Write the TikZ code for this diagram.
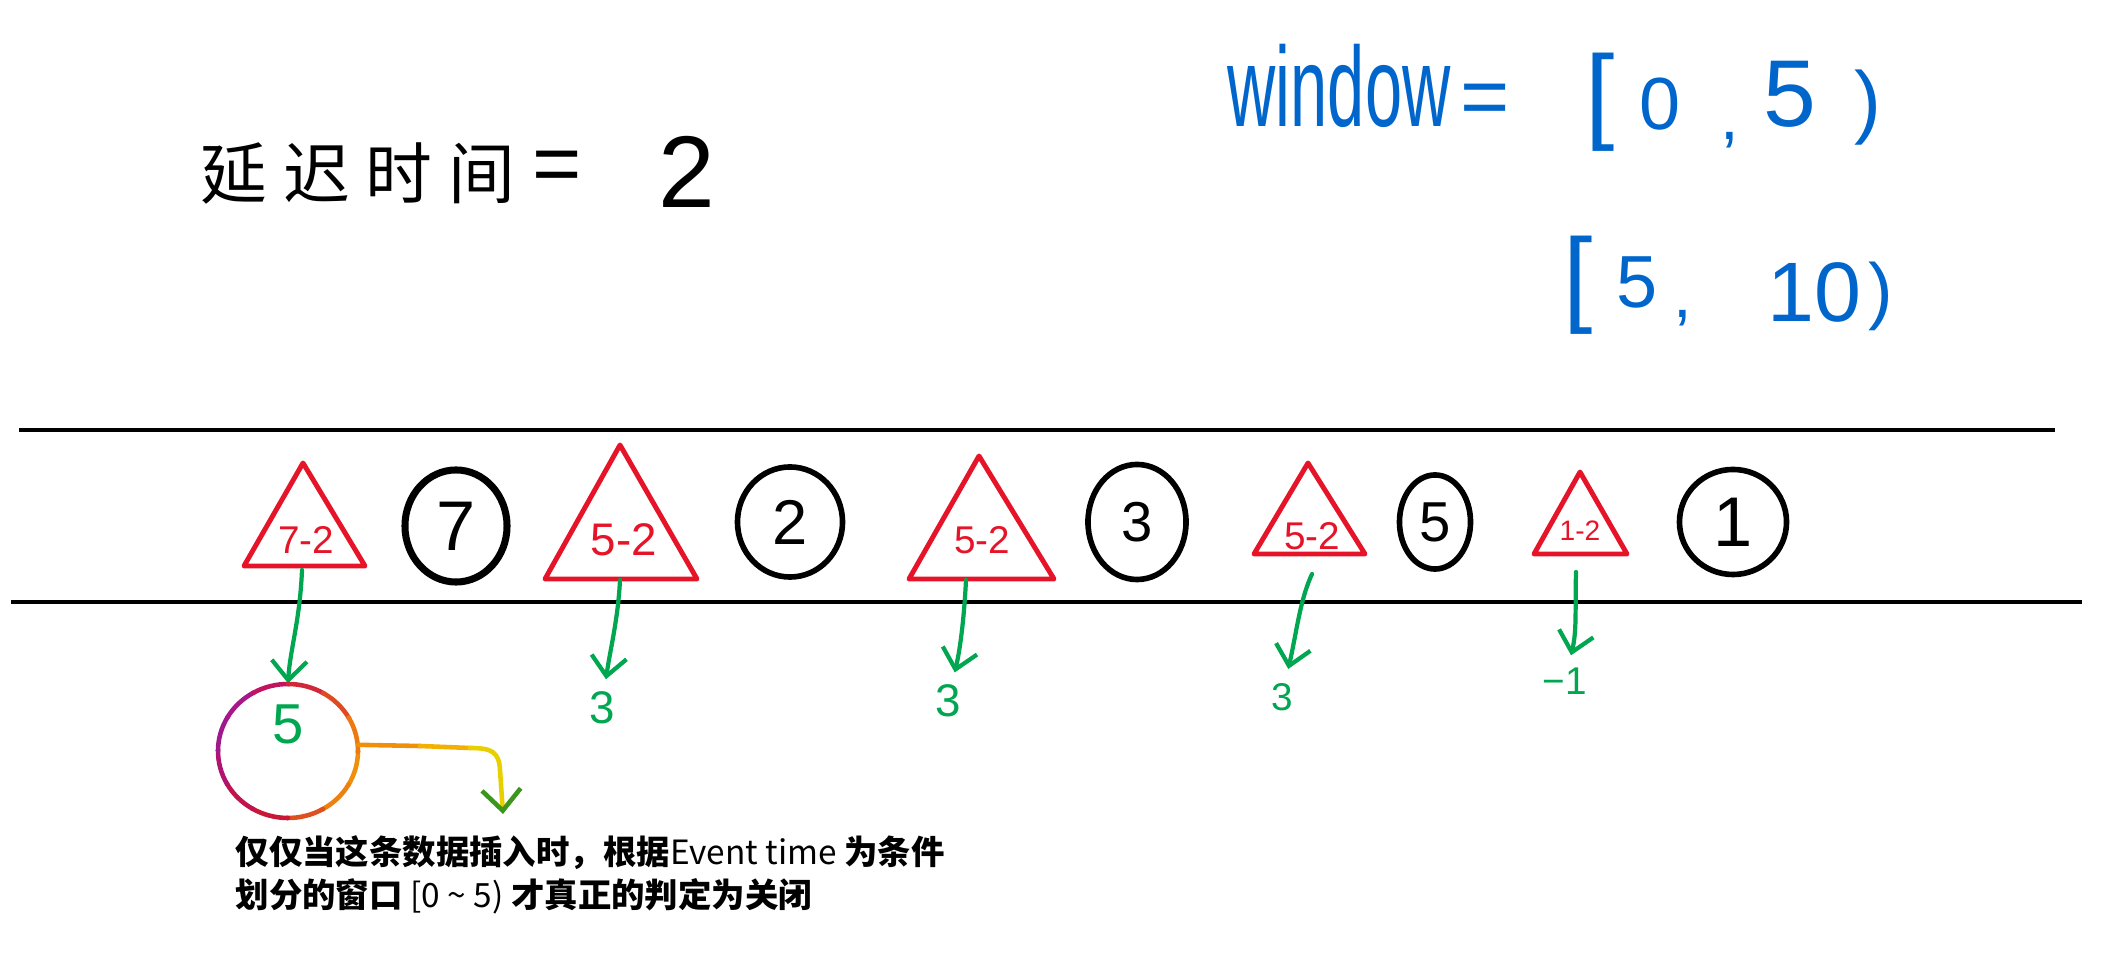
\documentclass[tikz,border=0pt]{standalone}
\usepackage{fontspec}
\usepackage{graphicx}
\setmainfont{Liberation Sans}
\newfontfamily\cjk{Noto Sans CJK SC}
\newfontfamily\hand{Liberation Sans}
\usetikzlibrary{arrows.meta,shapes.geometric,calc}
\definecolor{hred}{RGB}{230,20,40}
\definecolor{hgreen}{RGB}{0,166,80}
\definecolor{hblue}{RGB}{0,102,204}
\definecolor{rbA}{RGB}{240,144,10}
\definecolor{rbB}{RGB}{238,128,16}
\definecolor{rbC}{RGB}{221,80,32}
\definecolor{rbD}{RGB}{200,24,56}
\definecolor{rbE}{RGB}{192,20,74}
\definecolor{rbF}{RGB}{176,20,112}
\definecolor{rbG}{RGB}{160,24,142}
\definecolor{rbH}{RGB}{168,22,138}
\definecolor{rbI}{RGB}{192,20,96}
\definecolor{rbJ}{RGB}{208,40,56}
\definecolor{rbK}{RGB}{224,74,32}
\definecolor{rbL}{RGB}{236,122,16}
\definecolor{yelA}{RGB}{244,176,0}
\definecolor{yelB}{RGB}{232,208,0}
\definecolor{tipg}{RGB}{60,150,30}
\begin{document}
\begin{tikzpicture}[x=0.01cm,y=-0.01cm,
  rail/.style={line width=1.2pt},
  tri/.style={draw=hred,line width=1.4pt,line join=round},
  ev/.style={ellipse,draw,line width=1.6pt,inner sep=0pt},
  tl/.style={text=hred,inner sep=0pt},
  gl/.style={text=hgreen,inner sep=0pt},
  garrow/.style={draw=hgreen,line width=1.2pt,line cap=round,-{Straight Barb[length=5.5pt,width=10pt]}},
  bl/.style={text=hblue,inner sep=0pt},
  hw/.style={text=black,inner sep=0pt},
  rb/.style={line width=1.3pt,line cap=round},
]
\useasboundingbox (0,0) rectangle (2103,962);

% handwritten title
\node[hw,font=\cjk\fontsize{19}{19}\selectfont] (delay) at (358,174) {延\hspace{4.5pt}迟\hspace{4.5pt}时\hspace{4.5pt}间};
\node[hw,font=\hand\fontsize{24}{24}\selectfont] (deq) at (557,172) {=};
\node[hw,font=\hand\fontsize{29}{29}\selectfont] (dval) at (687,172) {2};

% window text
\node[bl,anchor=base west,font=\hand\fontsize{19}{19}\selectfont] (win) at (1227,127) {\scalebox{1}[1.7]{window}};
\node[bl,font=\hand\fontsize{24}{24}\selectfont] (weq) at (1485,105) {=};
\node[bl,font=\hand\fontsize{30}{30}\selectfont] (wb1) at (1600,102) {[};
\node[bl,font=\hand\fontsize{21}{21}\selectfont] (wz) at (1660,104) {0};
\node[bl,font=\hand\fontsize{19}{19}\selectfont] (wc1) at (1730,140) {,};
\node[bl,font=\hand\fontsize{27}{27}\selectfont] (wf) at (1790,94) {5};
\node[bl,font=\hand\fontsize{23}{23}\selectfont] (wp1) at (1868,108) {)};
\node[bl,font=\hand\fontsize{30}{30}\selectfont] (wb2) at (1578,285) {[};
\node[bl,font=\hand\fontsize{21}{21}\selectfont] (wf2) at (1637,282) {5};
\node[bl,font=\hand\fontsize{19}{19}\selectfont] (wc2) at (1683,318) {,};
\node[bl,font=\hand\fontsize{24}{24}\selectfont] (wt) at (1814,292) {10};
\node[bl,font=\hand\fontsize{21}{21}\selectfont] (wp2) at (1881,296) {)};

% rails
\coordinate (r1a) at (19,430); \coordinate (r1b) at (2055,430);
\coordinate (r2a) at (11,602); \coordinate (r2b) at (2082,602);
\draw[rail] (r1a) -- (r1b);
\draw[rail] (r2a) -- (r2b);

% triangles
\draw[tri] (303,463) -- (244,566) -- (365,566) -- cycle;
\draw[tri] (620,445) -- (545,579) -- (697,579) -- cycle;
\draw[tri] (979,456) -- (909,579) -- (1054,579) -- cycle;
\draw[tri] (1308,463) -- (1254,554) -- (1365,554) -- cycle;
\draw[tri] (1580,472) -- (1534,554) -- (1627,554) -- cycle;
\node[tl,font=\hand\fontsize{11}{11}\selectfont] (l1) at (306,540) {7-2};
\node[tl,font=\hand\fontsize{13}{13}\selectfont] (l2) at (624,540) {5-2};
\node[tl,font=\hand\fontsize{11}{11}\selectfont] (l3) at (982,540) {5-2};
\node[tl,font=\hand\fontsize{11}{11}\selectfont] (l4) at (1312,536) {5-2};
\node[tl,font=\hand\fontsize{8}{8}\selectfont] (l5) at (1580,531) {1-2};

% event circles
\node[ev,line width=2pt,minimum width=1.02cm,minimum height=1.12cm,font=\hand\fontsize{20}{20}\selectfont] (c1) at (456,526) {7};
\node[ev,minimum width=1.05cm,minimum height=1.10cm,font=\hand\fontsize{18}{18}\selectfont] (c2) at (790,522) {2};
\node[ev,minimum width=0.98cm,minimum height=1.15cm,font=\hand\fontsize{16}{16}\selectfont] (c3) at (1137,522) {3};
\node[ev,minimum width=0.71cm,minimum height=0.94cm,font=\hand\fontsize{16}{16}\selectfont] (c4) at (1435,522) {5};
\node[ev,minimum width=1.07cm,minimum height=1.05cm,font=\hand\fontsize{20}{20}\selectfont] (c5) at (1733,522) {1};

% green watermark arrows and values
\coordinate (a1) at (302,570);
\coordinate (a2) at (620,580);
\coordinate (a3) at (966,580);
\coordinate (a4) at (1312,574);
\coordinate (a5) at (1576,572);
\node[ellipse,inner sep=0pt,minimum width=1.4cm,minimum height=1.34cm] (rc) at (288,751) {};
\node[gl,font=\hand\fontsize{16}{16}\selectfont] (v1) at (288,724) {5};
\node[gl,font=\hand\fontsize{13}{13}\selectfont] (v2) at (602,708) {3};
\node[gl,font=\hand\fontsize{13}{13}\selectfont] (v3) at (948,701) {3};
\node[gl,font=\hand\fontsize{11}{11}\selectfont] (v4) at (1282,697) {3};
\node[gl,font=\hand\fontsize{11}{11}\selectfont] (v5) at (1565,681) {−1};
\draw[garrow] (a1) .. controls (300,620) and (290,650) .. (rc.north);
\draw[garrow,shorten >=0.12cm] (a2) .. controls (618,620) and (610,650) .. (v2);
\draw[garrow,shorten >=0.12cm] (a3) .. controls (964,620) and (960,650) .. (v3);
\draw[garrow,shorten >=0.14cm] (a4) .. controls (1300,600) and (1297,630) .. (v4);
\draw[garrow,shorten >=0.12cm] (a5) .. controls (1575,610) and (1577,630) .. (v5);

% rainbow circle
\foreach \s/\c in {0/rbA,30/rbB,60/rbC,90/rbD,120/rbE,150/rbF,180/rbG,210/rbH,240/rbI,270/rbJ,300/rbK,330/rbL}{
  \draw[rb,\c] ($(rc.center)+(\s:70 and 67)$) arc[start angle=\s,end angle=\s+31,x radius=70,y radius=67];
}
% rainbow arrow
\coordinate (rt1) at (420,746);
\coordinate (rt2) at (470,748);
\coordinate (rt3) at (500,770);
\coordinate (rtip) at (503,814);
\draw[rb,rbA] (rc.5) -- (rt1);
\draw[rb,yelA] (rt1) -- (rt2);
\draw[rb,yelB] (rt2) .. controls (492,748) and (499,752) .. (rt3);
\draw[rb,yelB,-{Straight Barb[length=6pt,width=11pt,color=tipg]}] (rt3) -- (rtip);

% caption
\node[anchor=west,inner sep=0pt,font=\cjk\fontsize{9.5}{9.5}\selectfont] (cap1) at (235,853) {\bfseries 仅仅当这条数据插入时，根据{\mdseries Event time }为条件};
\node[anchor=west,inner sep=0pt,font=\cjk\fontsize{9.5}{9.5}\selectfont] (cap2) at (235,896) {\bfseries 划分的窗口 {\mdseries [0 \textasciitilde{} 5)} 才真正的判定为关闭};
\end{tikzpicture}
\end{document}
